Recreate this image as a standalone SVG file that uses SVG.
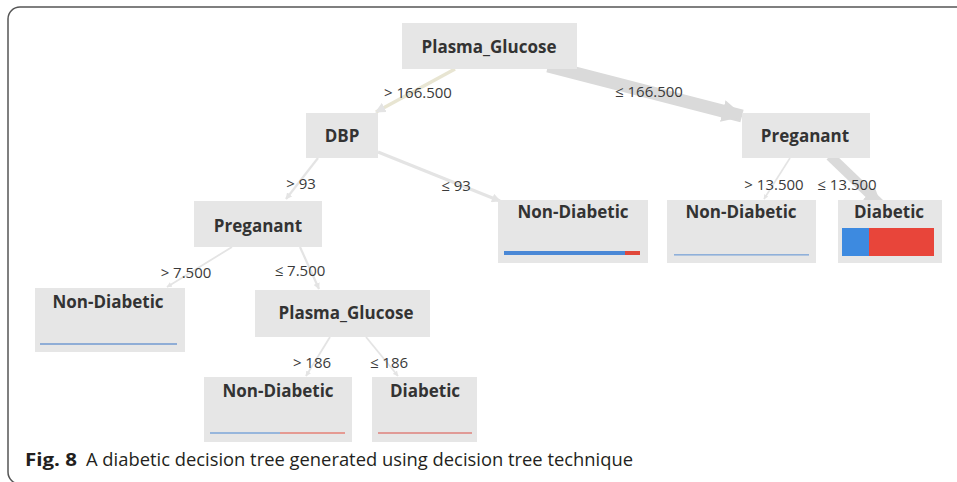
<svg xmlns="http://www.w3.org/2000/svg" width="957" height="482" viewBox="0 0 957 482">
<style>
.box{fill:#e6e6e6}
.nt{font-family:"Open Sans","Noto Sans","DejaVu Sans",sans-serif;font-weight:700;font-size:17px;fill:#333;text-anchor:middle}
.lb{font-family:"Open Sans","Noto Sans","DejaVu Sans",sans-serif;font-size:15px;fill:#3a3a3a;text-anchor:middle}
.cap{font-family:"Open Sans","Noto Sans","DejaVu Sans",sans-serif;font-size:18px;fill:#231f20}
.c{fill:none;stroke-linecap:butt}
.thin{stroke:#e4e4e4;stroke-width:2.2;marker-end:url(#ah)}
.thick{stroke:#dadada;marker-end:url(#ahb)}
</style>
<defs>
<marker id="ah" viewBox="0 0 10 10" refX="9" refY="5" markerWidth="3" markerHeight="3" orient="auto" markerUnits="strokeWidth">
<path d="M0,0 L10,5 L0,10 z" fill="#e4e4e4"/>
</marker>
<marker id="ahb" viewBox="0 0 10 10" refX="9" refY="5" markerWidth="1.7" markerHeight="1.7" orient="auto" markerUnits="strokeWidth">
<path d="M0,0 L10,5 L0,10 z" fill="#dadada"/>
</marker>
</defs>
<rect x="0" y="0" width="957" height="482" fill="#ffffff"/>
<path d="M957,7 H20 A12,12 0 0 0 8,19 V472 A12,12 0 0 0 20,484" fill="none" stroke="#555" stroke-width="1.5"/>

<g id="connectors">
<line class="c thin" x1="455" y1="69" x2="376" y2="112" style="stroke:#e8e5d2;stroke-width:3.5"/>
<line class="c thick" x1="548" y1="66" x2="742" y2="116" stroke-width="13"/>
<line class="c thin" x1="318" y1="158" x2="286" y2="199"/>
<line class="c thin" x1="378" y1="152" x2="500" y2="201" style="stroke-width:3"/>
<line class="c thin" x1="790" y1="158" x2="764" y2="199" style="stroke-width:1.6"/>
<line class="c thick" x1="830" y1="156" x2="880" y2="204" stroke-width="10"/>
<line class="c thin" x1="232" y1="247" x2="167" y2="287" style="stroke-width:1.8"/>
<line class="c thin" x1="300" y1="247" x2="319" y2="289"/>
<line class="c thin" x1="330" y1="337" x2="306" y2="376" style="stroke-width:1.8"/>
<line class="c thin" x1="366" y1="337" x2="398" y2="376" style="stroke-width:1.8"/>
</g>

<g id="labels">
<text class="lb" x="418" y="98">&gt; 166.500</text>
<text class="lb" x="649" y="97">≤ 166.500</text>
<text class="lb" x="301" y="189">&gt; 93</text>
<text class="lb" x="456" y="191">≤ 93</text>
<text class="lb" x="774" y="190">&gt; 13.500</text>
<text class="lb" x="847" y="190">≤ 13.500</text>
<text class="lb" x="186" y="278">&gt; 7.500</text>
<text class="lb" x="300" y="276">≤ 7.500</text>
<text class="lb" x="312" y="368">&gt; 186</text>
<text class="lb" x="389" y="368">≤ 186</text>
</g>

<g id="n_root">
<rect class="box" x="402" y="23" width="175" height="46"/>
<text class="nt" x="489" y="53">Plasma_Glucose</text>
</g>
<g id="n_dbp">
<rect class="box" x="306" y="113" width="72" height="45"/>
<text class="nt" x="342" y="142">DBP</text>
</g>
<g id="n_preg_r">
<rect class="box" x="742" y="113" width="128" height="45"/>
<text class="nt" x="805" y="142">Preganant</text>
</g>
<g id="n_preg_l">
<rect class="box" x="194" y="201" width="128" height="46"/>
<text class="nt" x="258" y="232">Preganant</text>
</g>
<g id="n_nd_mid">
<rect class="box" x="498" y="200" width="150" height="63"/>
<text class="nt" x="573" y="218">Non-Diabetic</text>
<rect x="504" y="251" width="121" height="4" fill="#4a88d6"/>
<rect x="625" y="251" width="15" height="4" fill="#e0483a"/>
</g>
<g id="n_nd_r">
<rect class="box" x="667" y="200" width="149" height="63"/>
<text class="nt" x="741" y="218">Non-Diabetic</text>
<rect x="674" y="254" width="135" height="1.6" fill="#8fb0da"/>
</g>
<g id="n_diab_r">
<rect class="box" x="838" y="200" width="104" height="63"/>
<text class="nt" x="889" y="218">Diabetic</text>
<rect x="842" y="228" width="27" height="28" fill="#3d8ae0"/>
<rect x="869" y="228" width="65" height="28" fill="#e8453a"/>
</g>
<g id="n_nd_l">
<rect class="box" x="35" y="288" width="150" height="64"/>
<text class="nt" x="108" y="308">Non-Diabetic</text>
<rect x="40" y="343" width="137" height="2" fill="#8fadd6"/>
</g>
<g id="n_pg_l">
<rect class="box" x="255" y="290" width="175" height="47"/>
<text class="nt" x="346" y="319">Plasma_Glucose</text>
</g>
<g id="n_nd_low">
<rect class="box" x="204" y="377" width="148" height="65"/>
<text class="nt" x="278" y="397">Non-Diabetic</text>
<rect x="210" y="432" width="70" height="2" fill="#97b6dc"/>
<rect x="280" y="432" width="65" height="2" fill="#e59a92"/>
</g>
<g id="n_diab_low">
<rect class="box" x="372" y="377" width="105" height="65"/>
<text class="nt" x="425" y="397">Diabetic</text>
<rect x="378" y="432" width="94" height="2" fill="#e09a96"/>
</g>

<g id="caption">
<text class="cap" x="25" y="466" font-weight="700" textLength="52" lengthAdjust="spacingAndGlyphs">Fig. 8</text>
<text class="cap" x="86" y="466" textLength="547" lengthAdjust="spacingAndGlyphs">A diabetic decision tree generated using decision tree technique</text>
</g>
</svg>
